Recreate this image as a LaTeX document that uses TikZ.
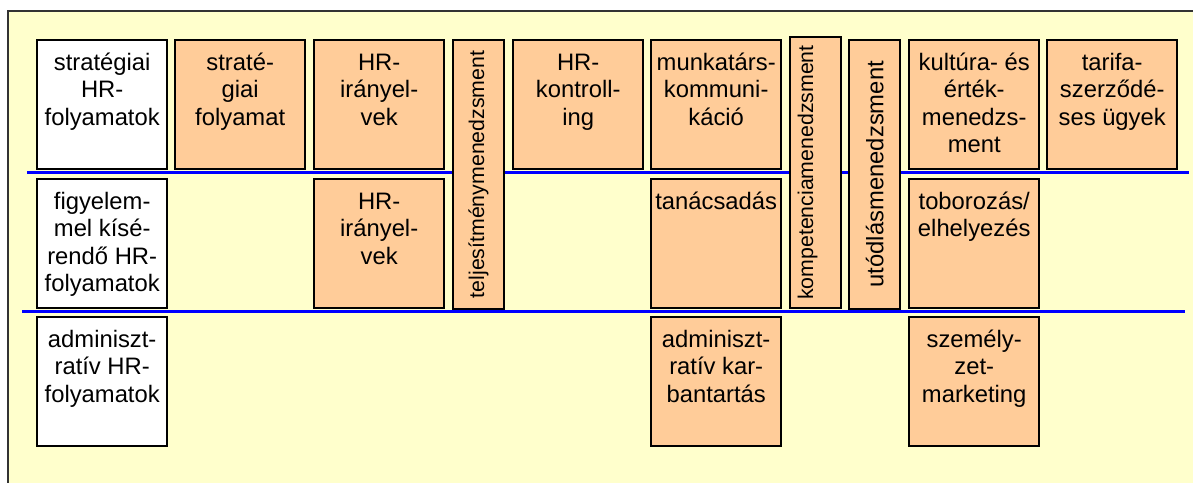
\documentclass[tikz,border=0pt]{standalone}
\usepackage{fontspec}
\setmainfont{Liberation Sans}

\definecolor{hrpeach}{HTML}{FFCC99}
\definecolor{hrback}{HTML}{FFFFCC}
\newcommand{\hrstrut}{\rule{0pt}{24pt}}
\newcommand{\hrfont}{\fontsize{23.8}{27.2}\selectfont\lineskiplimit-30pt\relax}

\begin{document}
\begin{tikzpicture}[x=1pt,y=-1pt,
  hrbox/.style={draw,line width=2pt,fill=hrpeach,anchor=north west,inner sep=0pt,
    minimum width=130.4pt,minimum height=129.2pt},
  hrhead/.style={hrbox,fill=white},
  hrtall/.style={hrbox,minimum width=51pt,minimum height=269pt},
  hrtext/.style={anchor=north,align=center,inner sep=0pt,font=\hrfont},
  hrvert/.style={rotate=90,inner sep=0pt,font=\fontsize{21.3}{24}\selectfont},
  hrline/.style={line width=2.6pt,blue}]

  \useasboundingbox (0,0) rectangle (1193,482);
  \draw[line width=1.8pt,draw=black!80,fill=hrback] (7.9,10.9) rectangle (1210,500);

  % separators between the three process levels
  \coordinate (l1a) at (27,172.5);
  \coordinate (l1b) at (1189,172.5);
  \coordinate (l2a) at (22,311.3);
  \coordinate (l2b) at (1185,311.3);
  \draw[hrline] (l1a) -- (l1b);
  \draw[hrline] (l2a) -- (l2b);

  % row headings
  \node[hrhead] (head1) at (36,39) {};
  \node[hrhead] (head2) at (36,178) {};
  \node[hrhead] (head3) at (36,316) {};
  \node[hrtext] (t-head1) at ([yshift=-7.5pt]head1.north) {\hrstrut stratégiai\\HR-\\folyamatok};
  \node[hrtext] (t-head2) at ([yshift=-7.5pt]head2.north) {\hrstrut figyelem-\\mel kísé-\\rendő HR-\\folyamatok};
  \node[hrtext] (t-head3) at ([yshift=-7.5pt]head3.north) {\hrstrut adminiszt-\\ratív HR-\\folyamatok};

  % strategic row
  \node[hrbox] (strat) at (174,39) {};
  \node[hrbox] (irany1) at (313,39) {};
  \node[hrbox] (kontroll) at (512,39) {};
  \node[hrbox] (kommu) at (650,39) {};
  \node[hrbox] (kultura) at (908,39) {};
  \node[hrbox] (tarifa) at (1046,39) {};
  \node[hrtext] (t-strat) at ([yshift=-7.5pt]strat.north) {\hrstrut straté-\\giai\\folyamat};
  \node[hrtext] (t-irany1) at ([yshift=-7.5pt]irany1.north) {\hrstrut HR-\\irányel-\\vek};
  \node[hrtext] (t-kontroll) at ([yshift=-7.5pt]kontroll.north) {\hrstrut HR-\\kontroll-\\ing};
  \node[hrtext] (t-kommu) at ([yshift=-7.5pt]kommu.north) {\hrstrut munkatárs-\\kommuni-\\káció};
  \node[hrtext] (t-kultura) at ([yshift=-7.5pt]kultura.north) {\hrstrut kultúra- és\\érték-\\menedzs-\\ment};
  \node[hrtext] (t-tarifa) at ([yshift=-7.5pt]tarifa.north) {\hrstrut tarifa-\\szerződé-\\ses ügyek};

  % monitored row
  \node[hrbox] (irany2) at (313,178) {};
  \node[hrbox] (tanacs) at (650,178) {};
  \node[hrbox] (tobor) at (908,178) {};
  \node[hrtext] (t-irany2) at ([yshift=-7.5pt]irany2.north) {\hrstrut HR-\\irányel-\\vek};
  \node[hrtext] (t-tanacs) at ([yshift=-7.5pt]tanacs.north) {\hrstrut tanácsadás};
  \node[hrtext] (t-tobor) at ([yshift=-7.5pt]tobor.north) {\hrstrut toborozás/\\elhelyezés};

  % administrative row
  \node[hrbox] (karban) at (650,316) {};
  \node[hrbox] (marketing) at (908,316) {};
  \node[hrtext] (t-karban) at ([yshift=-7.5pt]karban.north) {\hrstrut adminiszt-\\ratív kar-\\bantartás};
  \node[hrtext] (t-marketing) at ([yshift=-7.5pt]marketing.north) {\hrstrut személy-\\zet-\\marketing};

  % spanning columns
  \node[hrtall] (teljes) at (452,39) {};
  \node[hrtall,minimum width=51.6pt,minimum height=271.6pt] (kompet) at (788.7,35.7) {};
  \node[hrtall] (utodlas) at (848.2,38.7) {};
  \node[hrvert] (t-teljes) at (teljes.center) {teljesítménymenedzsment};
  \node[hrvert] (t-kompet) at ([xshift=-8pt]kompet.center) {kompetenciamenedzsment};
  \node[hrvert,font=\fontsize{23.8}{26}\selectfont] (t-utodlas) at (utodlas.center) {utódlásmenedzsment};

\end{tikzpicture}
\end{document}
